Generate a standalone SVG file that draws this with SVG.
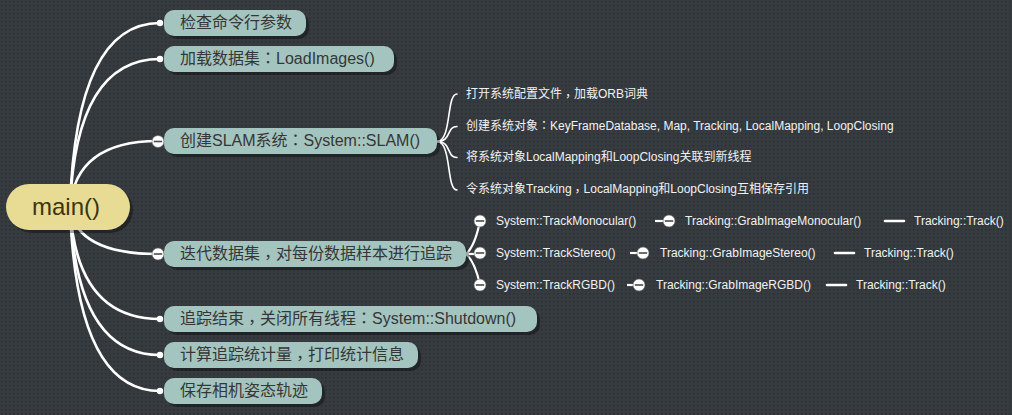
<svg xmlns="http://www.w3.org/2000/svg" width="1012" height="415" viewBox="0 0 1012 415">
<defs>
<pattern id="dots" width="4" height="4" patternUnits="userSpaceOnUse">
<rect width="4" height="4" fill="#363b3f"/>
<rect x="1" y="1" width="1.5" height="1.5" fill="#2b2f33"/>
</pattern>
<symbol id="minus" overflow="visible">
<circle cx="0" cy="0" r="6" fill="#ffffff" stroke="#666" stroke-width="0.6"/>
<line x1="-4.2" y1="0" x2="4.2" y2="0" stroke="#4a4a4a" stroke-width="1.6"/>
</symbol>
</defs>
<style>
.bg{fill:url(#dots)}
.link{fill:none;stroke:#ffffff;stroke-width:2.6;stroke-linecap:round}
.thin{fill:none;stroke:#ffffff;stroke-width:1.6;stroke-linecap:round}
.mid{fill:none;stroke:#ffffff;stroke-width:2.2}
.box{fill:#a4c5bf}
.shadow{fill:#000;opacity:0.35}
.root{fill:#e8dc94}
.lbl{font-family:"Liberation Sans","Noto Sans CJK SC",sans-serif;font-size:16px;fill:#363636}
.rootlbl{font-family:"Liberation Sans","Noto Sans CJK SC",sans-serif;font-size:24px;fill:#3b3510}
.small{font-family:"Liberation Sans","Noto Sans CJK SC",sans-serif;font-size:12px;fill:#f2f2f2}
.p{font-family:"Noto Sans CJK TC",sans-serif}
.dot{fill:#ffffff}
</style>
<rect class="bg" x="0" y="0" width="1012" height="415"/>

<g id="connectors">
<path class="link" d="M70 207 Q76 23 160 23"/>
<path class="link" d="M70 207 Q76 59 160 59"/>
<path class="link" d="M70 207 Q76 141 158 141"/>
<path class="link" d="M70 207 Q76 254 158 254"/>
<path class="link" d="M70 207 Q76 319 160 319"/>
<path class="link" d="M70 207 Q76 355 160 355"/>
<path class="link" d="M70 207 Q76 391 160 391"/>
<path class="thin" d="M437 141.5 C452 141.5 446 94 457 94"/>
<path class="thin" d="M437 141.5 C452 141.5 446 126.5 457 126.5"/>
<path class="thin" d="M437 141.5 C452 141.5 446 157.5 457 157.5"/>
<path class="thin" d="M437 141.5 C452 141.5 446 190 457 190"/>
<path class="mid" d="M466 254 Q475 246 480 221"/>
<path class="mid" d="M466 254 L480 254"/>
<path class="mid" d="M466 254 Q475 262 480 285"/>
<path class="mid" d="M655 221 L669 221"/>
<path class="mid" d="M630 253 L643 253"/>
<path class="mid" d="M627 285 L639 285"/>
<path class="link" d="M885 221 L904 221"/>
<path class="link" d="M835 253 L854 253"/>
<path class="link" d="M827 285 L846 285"/>
</g>

<g id="node-main">
<rect class="shadow" x="9" y="187" width="124" height="46" rx="23"/>
<rect class="root" x="6" y="184" width="124" height="46" rx="23"/>
<text class="rootlbl" x="66" y="215" text-anchor="middle">main()</text>
</g>

<g id="node-check-args">
<rect class="shadow" x="167" y="13" width="142" height="26" rx="10"/>
<rect class="box" x="164" y="10" width="142" height="26" rx="10"/>
<circle class="dot" cx="160" cy="23" r="3.2"/>
<text class="lbl" x="180" y="27.5">检查命令行参数</text>
</g>

<g id="node-load-images">
<rect class="shadow" x="167" y="49" width="230" height="26" rx="10"/>
<rect class="box" x="164" y="46" width="230" height="26" rx="10"/>
<circle class="dot" cx="160" cy="59" r="3.2"/>
<text class="lbl" x="180" y="63.5">加载数据集<tspan class="p">：</tspan>LoadImages()</text>
</g>

<g id="node-create-slam">
<rect class="shadow" x="167" y="131" width="273" height="26" rx="10"/>
<rect class="box" x="164" y="128" width="273" height="26" rx="10"/>
<use href="#minus" x="158" y="141.5"/>
<text class="lbl" x="180" y="146">创建SLAM系统<tspan class="p">：</tspan>System::SLAM()</text>
</g>

<g id="node-slam-1">
<text class="small" x="466" y="97.5">打开系统配置文件<tspan class="p" dy="3">，</tspan><tspan dy="-3">加载ORB词典</tspan></text>
</g>
<g id="node-slam-2">
<text class="small" x="466" y="129.5">创建系统对象<tspan class="p">：</tspan>KeyFrameDatabase, Map, Tracking, LocalMapping, LoopClosing</text>
</g>
<g id="node-slam-3">
<text class="small" x="466" y="161">将系统对象LocalMapping和LoopClosing关联到新线程</text>
</g>
<g id="node-slam-4">
<text class="small" x="466" y="192.5">令系统对象Tracking<tspan class="p" dy="3">，</tspan><tspan dy="-3">LocalMapping和LoopClosing互相保存引用</tspan></text>
</g>

<g id="node-iterate">
<rect class="shadow" x="167" y="244" width="302" height="26" rx="10"/>
<rect class="box" x="164" y="241" width="302" height="26" rx="10"/>
<use href="#minus" x="158" y="254"/>
<text class="lbl" x="180" y="258.5">迭代数据集<tspan class="p" dy="4">，</tspan><tspan dy="-4">对每份数据样本进行追踪</tspan></text>
</g>

<g id="node-track-mono">
<use href="#minus" x="480" y="221"/>
<text class="small" x="496" y="225">System::TrackMonocular()</text>
</g>
<g id="node-grab-mono">
<use href="#minus" x="669" y="221"/>
<text class="small" x="685" y="225">Tracking::GrabImageMonocular()</text>
</g>
<g id="node-track-1">
<text class="small" x="914" y="225">Tracking::Track()</text>
</g>

<g id="node-track-stereo">
<use href="#minus" x="480" y="253"/>
<text class="small" x="496" y="257">System::TrackStereo()</text>
</g>
<g id="node-grab-stereo">
<use href="#minus" x="643" y="253"/>
<text class="small" x="660" y="257">Tracking::GrabImageStereo()</text>
</g>
<g id="node-track-2">
<text class="small" x="864" y="257">Tracking::Track()</text>
</g>

<g id="node-track-rgbd">
<use href="#minus" x="480" y="285"/>
<text class="small" x="496" y="289">System::TrackRGBD()</text>
</g>
<g id="node-grab-rgbd">
<use href="#minus" x="639" y="285"/>
<text class="small" x="656" y="289">Tracking::GrabImageRGBD()</text>
</g>
<g id="node-track-3">
<text class="small" x="856" y="289">Tracking::Track()</text>
</g>

<g id="node-shutdown">
<rect class="shadow" x="167" y="309" width="373" height="26" rx="10"/>
<rect class="box" x="164" y="306" width="373" height="26" rx="10"/>
<circle class="dot" cx="160" cy="319" r="3.2"/>
<text class="lbl" x="180" y="323.5">追踪结束<tspan class="p" dy="4">，</tspan><tspan dy="-4">关闭所有线程</tspan><tspan class="p">：</tspan>System::Shutdown()</text>
</g>

<g id="node-stats">
<rect class="shadow" x="167" y="345" width="254" height="26" rx="10"/>
<rect class="box" x="164" y="342" width="254" height="26" rx="10"/>
<circle class="dot" cx="160" cy="355" r="3.2"/>
<text class="lbl" x="180" y="359.5">计算追踪统计量<tspan class="p" dy="4">，</tspan><tspan dy="-4">打印统计信息</tspan></text>
</g>

<g id="node-save">
<rect class="shadow" x="167" y="381" width="158" height="26" rx="10"/>
<rect class="box" x="164" y="378" width="158" height="26" rx="10"/>
<circle class="dot" cx="160" cy="391" r="3.2"/>
<text class="lbl" x="180" y="395.5">保存相机姿态轨迹</text>
</g>
</svg>
